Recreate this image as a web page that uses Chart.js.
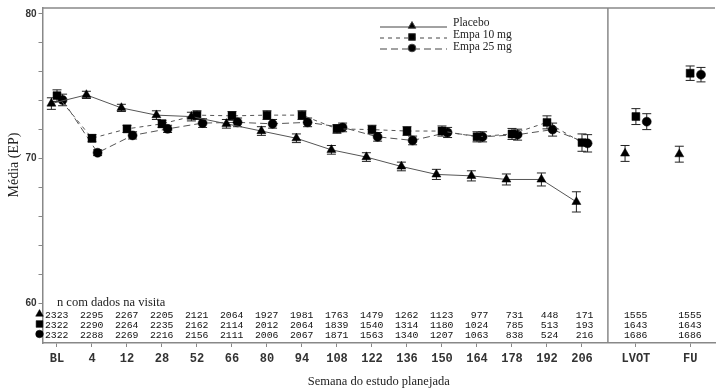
<!DOCTYPE html>
<html><head><meta charset="utf-8">
<script src="https://cdn.jsdelivr.net/npm/chart.js@4/dist/chart.umd.min.js"></script>
<style>html,body{margin:0;padding:0;background:#fff}</style>
</head><body>
<canvas id="c" width="728" height="390"></canvas>
<script>
// ---- data ----
const categories = ['BL','4','12','28','52','66','80','94','108','122','136','150','164','178','192','206','LVOT','FU'];
const categoryPos = [0,1,2,3,4,5,6,7,8,9,10,11,12,13,14,15,16.54,18.09];
const yTickValues = [60,62,64,66,68,70,72,74,76,78,80];

const placebo = [73.8,74.4,73.5,73.0,72.9,72.4,71.9,71.4,70.6,70.1,69.45,68.9,68.8,68.55,68.55,67.0,70.35,70.3];
const empa10  = [74.35,71.4,72.05,72.4,73.0,72.95,73.0,73.0,72.05,72.0,71.9,71.9,71.5,71.7,72.5,71.1,72.9,75.9];
const empa25  = [74.05,70.4,71.6,72.05,72.45,72.5,72.4,72.5,72.15,71.5,71.25,71.8,71.5,71.65,72.0,71.05,72.55,75.8];

const placeboErr = [0.4,0.25,0.25,0.3,0.3,0.3,0.3,0.3,0.3,0.3,0.3,0.35,0.35,0.38,0.45,0.7,0.55,0.55];
const empa10Err  = [0.4,0.25,0.25,0.25,0.3,0.3,0.3,0.3,0.3,0.3,0.3,0.35,0.35,0.38,0.45,0.6,0.55,0.5];
const empa25Err  = [0.4,0.2,0.25,0.25,0.3,0.3,0.3,0.3,0.3,0.3,0.3,0.35,0.35,0.38,0.45,0.6,0.55,0.5];

const nPlacebo = [2323,2295,2267,2205,2121,2064,1927,1981,1763,1479,1262,1123,977,731,448,171,1555,1555];
const nEmpa10  = [2322,2290,2264,2235,2162,2114,2012,2064,1839,1540,1314,1180,1024,785,513,193,1643,1643];
const nEmpa25  = [2322,2288,2269,2216,2156,2111,2006,2067,1871,1563,1340,1207,1063,838,524,216,1686,1686];

const seriesNames = ['Placebo','Empa 10 mg','Empa 25 mg'];
const yTitle = 'Média (EP)';
const xTitle = 'Semana do estudo planejada';
const tableTitle = 'n com dados na visita';
const separatorPos = 15.74;

// ---- build ----
const seriesVals = [placebo, empa10, empa25];
const seriesErr = [placeboErr, empa10Err, empa25Err];
const seriesN = [nPlacebo, nEmpa10, nEmpa25];
const styles = [
  {pointStyle:'triangle', radius:5.2, dash:[]},
  {pointStyle:'rect', radius:5.6, dash:[4,4]},
  {pointStyle:'circle', radius:4.5, dash:[7,4]}
];
const dodgeSign = [-1,0,1];
function xFor(i, s){ return categoryPos[i] + dodgeSign[s]*(i>=16 ? 0.31 : 0.16); }

const datasets = seriesVals.map((vals, s) => ({
  label: seriesNames[s],
  data: vals.map((v,i)=>({x:xFor(i,s), y:v})),
  borderColor:'#555',
  borderWidth:1,
  borderDash: styles[s].dash,
  pointStyle: styles[s].pointStyle,
  pointRadius: styles[s].radius,
  pointHoverRadius: styles[s].radius,
  pointBackgroundColor:'#000',
  pointBorderColor:'#000',
  pointBorderWidth:0.5,
  tension:0,
  segment:{ borderColor: c => c.p0DataIndex >= 15 ? 'rgba(0,0,0,0)' : undefined }
}));

const errPlugin = {
  id:'errbars',
  beforeDatasetsDraw(chart){
    const ctx = chart.ctx, ys = chart.scales.y;
    ctx.save();
    ctx.strokeStyle = '#222'; ctx.lineWidth = 1; ctx.setLineDash([]);
    seriesVals.forEach((vals, s) => {
      const meta = chart.getDatasetMeta(s);
      vals.forEach((v,i) => {
        const el = meta.data[i];
        const x = el.x;
        const t = ys.getPixelForValue(v + seriesErr[s][i]);
        const b = ys.getPixelForValue(v - seriesErr[s][i]);
        ctx.beginPath();
        ctx.moveTo(x, t); ctx.lineTo(x, b);
        ctx.moveTo(x-4.5, t); ctx.lineTo(x+4.5, t);
        ctx.moveTo(x-4.5, b); ctx.lineTo(x+4.5, b);
        ctx.stroke();
      });
    });
    ctx.restore();
  }
};

const decoPlugin = {
  id:'deco',
  afterDraw(chart){
    const ctx = chart.ctx, a = chart.chartArea, xs = chart.scales.x;
    ctx.save();
    // top border
    ctx.strokeStyle = '#888'; ctx.lineWidth = 1.5;
    ctx.beginPath(); ctx.moveTo(a.left, a.top); ctx.lineTo(a.right, a.top); ctx.stroke();
    // separator
    const sx = xs.getPixelForValue(separatorPos);
    ctx.beginPath(); ctx.moveTo(sx, a.top); ctx.lineTo(sx, a.bottom); ctx.stroke();

    // titles
    ctx.fillStyle = '#222';
    ctx.font = '12.5px "Liberation Serif"';
    ctx.textAlign = 'center'; ctx.textBaseline = 'middle';
    ctx.fillText(xTitle, (a.left + a.right)/2, 382);
    ctx.save();
    ctx.translate(14, 165); ctx.rotate(-Math.PI/2);
    ctx.font = '14px "Liberation Serif"';
    ctx.fillText(yTitle, 0, 0);
    ctx.restore();

    // table
    ctx.font = '12.5px "Liberation Serif"';
    ctx.textAlign = 'left';
    ctx.fillText(tableTitle, xs.getPixelForValue(categoryPos[0]), 303);
    const rowY = [315, 325, 335];
    ctx.font = '9.8px "Liberation Mono"';
    ctx.fillStyle = '#111';
    ctx.textAlign = 'right';
    seriesN.forEach((arr, s) => {
      arr.forEach((n,i) => {
        ctx.fillText(String(n), xs.getPixelForValue(categoryPos[i]) + 11.5, rowY[s]);
      });
    });
    ctx.fillStyle = '#000'; ctx.strokeStyle = '#000'; ctx.lineWidth = 0.5;
    styles.forEach((st, s) => {
      Chart.helpers.drawPoint(ctx, {pointStyle: st.pointStyle, radius: st.radius*0.85, rotation:0, borderWidth:0.5}, 39.5, rowY[s]-1);
    });

    // legend
    const legY = [27, 38, 49];
    const txtY = [23, 35, 47];
    styles.forEach((st, s) => {
      ctx.strokeStyle = '#444'; ctx.lineWidth = 1; ctx.setLineDash(st.dash);
      ctx.beginPath(); ctx.moveTo(380, legY[s]); ctx.lineTo(447, legY[s]); ctx.stroke();
      ctx.setLineDash([]);
      ctx.fillStyle = '#000';
      Chart.helpers.drawPoint(ctx, {pointStyle: st.pointStyle, radius: st.radius*0.85, rotation:0, borderWidth:0.5}, 412, legY[s]-1);
      ctx.fillStyle = '#222';
      ctx.font = '11.5px "Liberation Serif"';
      ctx.textAlign = 'left'; ctx.textBaseline = 'middle';
      ctx.fillText(seriesNames[s], 453, txtY[s]);
    });
    ctx.restore();
  }
};

new Chart(document.getElementById('c'), {
  type:'line',
  data:{ datasets },
  options:{
    responsive:false,
    animation:false,
    layout:{ padding:{ top:7, right:13, left:0, bottom:0 } },
    plugins:{ legend:{display:false}, tooltip:{enabled:false} },
    scales:{
      x:{
        type:'linear', min:-0.414, max:18.8,
        afterBuildTicks: s => { s.ticks = categoryPos.map(v => ({value:v})); },
        ticks:{ callback:(v,i)=>categories[i], autoSkip:false, maxRotation:0, minRotation:0,
          font:{family:'Liberation Mono', weight:'bold', size:12}, color:'#333', padding:5 },
        grid:{ drawOnChartArea:false, drawTicks:true, tickLength:4, color:'#888', lineWidth:1 },
        border:{ color:'#888', width:1.5 },
        afterFit: s => { s.height = 47; }
      },
      y:{
        type:'linear', min:57.24, max:80.41,
        afterBuildTicks: s => { s.ticks = yTickValues.map(v => ({value:v})); },
        ticks:{ callback: v => (v % 10 === 0 ? String(v) : ''), autoSkip:false,
          font:{family:'Liberation Sans', weight:'bold', size:10}, color:'#333', padding:2 },
        grid:{ drawOnChartArea:false, drawTicks:true, tickLength:4, color:'#888', lineWidth:1 },
        border:{ color:'#888', width:1.5 },
        afterFit: s => { s.width = 42.5; }
      }
    }
  },
  plugins:[errPlugin, decoPlugin]
});
</script>
</body></html>
